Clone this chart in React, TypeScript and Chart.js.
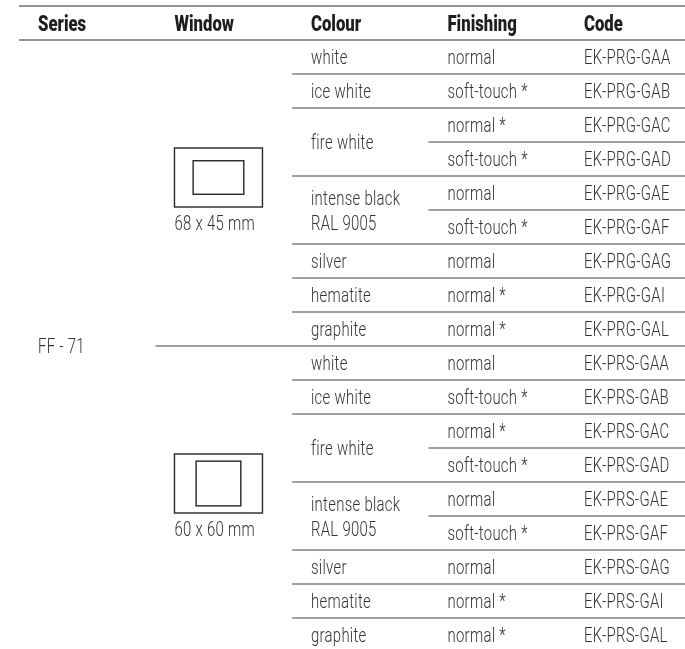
import React, { useEffect, useRef } from "react";
import { Chart, registerables } from "chart.js";

Chart.register(...registerables);

// ---------- data ----------
const HEADERS = ["Series", "Window", "Colour", "Finishing", "Code"];
const SERIES_NAME = "FF - 71";
const WINDOW_LABELS = ["68 x 45 mm", "60 x 60 mm"];
const WINDOW_W_MM = [68, 60];
const WINDOW_H_MM = [45, 60];
const COLOURS = ["white", "ice white", "fire white", "intense black\nRAL 9005", "silver", "hematite", "graphite"];
const COLOUR_SPANS = [1, 1, 2, 2, 1, 1, 1];
const FINISHINGS = ["normal", "soft-touch *", "normal *", "soft-touch *", "normal", "soft-touch *", "normal", "normal *", "normal *"];
const CODES_68x45 = ["EK-PRG-GAA", "EK-PRG-GAB", "EK-PRG-GAC", "EK-PRG-GAD", "EK-PRG-GAE", "EK-PRG-GAF", "EK-PRG-GAG", "EK-PRG-GAI", "EK-PRG-GAL"];
const CODES_60x60 = ["EK-PRS-GAA", "EK-PRS-GAB", "EK-PRS-GAC", "EK-PRS-GAD", "EK-PRS-GAE", "EK-PRS-GAF", "EK-PRS-GAG", "EK-PRS-GAI", "EK-PRS-GAL"];
const CODES = [CODES_68x45, CODES_60x60];

// ---------- style ----------
const W = 685;
const H = 649;
const COL_W = 136.5;
const ROW_H = 34;
const PAD_LEFT = 19;
const PAD_TOP = 6;
const TEXT_INSET = 0.139; // in column units
const BODY_SIZE = 21;
const HEAD_SIZE = 22;
const BODY_FONT = `300 ${BODY_SIZE}px Roboto`;
const HEAD_FONT = `900 ${HEAD_SIZE}px Roboto`;
const BODY_SX = 0.71;
const HEAD_SX = 0.76;
const BODY_SPACING = "0.4px";
const CAP_RATIO = 0.711;
const BODY_COLOR = "#333333";
const HEAD_COLOR = "#1e1e1e";
const LINE_COLOR = "#808080";
const HEAD_LINE_COLOR = "#6e6e6e";
const PX_PER_MM = 0.745;
const FRAME_W = 88;
const FRAME_H = 59;
const TWO_LINE_GAP = 25; // px between lines

const ROWS_PER_GROUP = FINISHINGS.length;

function buildLines() {
  const ds: any[] = [];
  const xEnd = (W - PAD_LEFT) / COL_W;
  const mk = (x0: number, k: number, color: string, w: number) => ({
    type: "line",
    data: [{ x: x0, y: k }, { x: xEnd, y: k }],
    borderColor: color,
    borderWidth: w,
    pointRadius: 0,
    clip: false,
    fill: false,
  });
  ds.push(mk(0, 0, HEAD_LINE_COLOR, 1.6));
  ds.push(mk(0, 1, HEAD_LINE_COLOR, 1.6));
  const colourEnds = new Set<number>();
  let acc = 0;
  COLOUR_SPANS.forEach((s) => {
    acc += s;
    colourEnds.add(acc - 1);
  });
  const total = ROWS_PER_GROUP * WINDOW_LABELS.length;
  for (let r = 0; r < total - 1; r++) {
    const local = r % ROWS_PER_GROUP;
    let start = 3;
    if (local === ROWS_PER_GROUP - 1) start = 1;
    else if (colourEnds.has(local)) start = 2;
    ds.push(mk(start, r + 2, LINE_COLOR, 1.5));
  }
  return ds;
}

function drawText(ctx: CanvasRenderingContext2D, text: string, px: number, cy: number, head: boolean) {
  const size = head ? HEAD_SIZE : BODY_SIZE;
  ctx.save();
  ctx.font = head ? HEAD_FONT : BODY_FONT;
  (ctx as any).letterSpacing = head ? "0px" : BODY_SPACING;
  ctx.fillStyle = head ? HEAD_COLOR : BODY_COLOR;
  ctx.textBaseline = "alphabetic";
  ctx.textAlign = "left";
  ctx.translate(px, cy + (size * CAP_RATIO) / 2);
  ctx.scale(head ? HEAD_SX : BODY_SX, 1);
  ctx.fillText(text, 0, 0);
  ctx.restore();
}

const tablePlugin = {
  id: "tableText",
  afterDatasetsDraw(chart: any) {
    const ctx: CanvasRenderingContext2D = chart.ctx;
    const xs = chart.scales.x;
    const ys = chart.scales.y;
    const colX = (c: number) => xs.getPixelForValue(c + TEXT_INSET);
    HEADERS.forEach((h, i) => drawText(ctx, h, colX(i), ys.getPixelForValue(0.5), true));
    const groups = WINDOW_LABELS.length;
    drawText(ctx, SERIES_NAME, colX(0), ys.getPixelForValue(1 + (groups * ROWS_PER_GROUP) / 2), false);
    for (let g = 0; g < groups; g++) {
      const k0 = 1 + g * ROWS_PER_GROUP;
      const gc = ys.getPixelForValue(k0 + ROWS_PER_GROUP / 2);
      const left = colX(1);
      const top = gc - 45;
      ctx.save();
      ctx.strokeStyle = "#262626";
      ctx.lineWidth = 1.4;
      ctx.strokeRect(left, top, FRAME_W, FRAME_H);
      const iw = WINDOW_W_MM[g] * PX_PER_MM;
      const ih = WINDOW_H_MM[g] * PX_PER_MM;
      ctx.strokeRect(left + FRAME_W / 2 - iw / 2, top + FRAME_H / 2 - ih / 2, iw, ih);
      ctx.restore();
      drawText(ctx, WINDOW_LABELS[g], left, gc + 29.5, false);
      let r = 0;
      COLOURS.forEach((c, ci) => {
        const span = COLOUR_SPANS[ci];
        const cy = ys.getPixelForValue(k0 + r + span / 2);
        const lines = c.split("\n");
        lines.forEach((ln, li) => {
          const off = (li - (lines.length - 1) / 2) * TWO_LINE_GAP;
          drawText(ctx, ln, colX(2), cy + off, false);
        });
        r += span;
      });
      FINISHINGS.forEach((f, i) => {
        const cy = ys.getPixelForValue(k0 + i + 0.5);
        drawText(ctx, f, colX(3), cy, false);
        drawText(ctx, CODES[g][i], colX(4), cy, false);
      });
    }
  },
};

export default function App() {
  const ref = useRef<HTMLCanvasElement | null>(null);
  useEffect(() => {
    if (!ref.current) return;
    const chart = new Chart(ref.current, {
      type: "scatter",
      data: { datasets: buildLines() },
      options: {
        animation: false,
        responsive: false,
        maintainAspectRatio: false,
        events: [],
        layout: { padding: { left: PAD_LEFT, top: PAD_TOP, right: 0, bottom: 0 } },
        scales: {
          x: { type: "linear", min: 0, max: (W - PAD_LEFT) / COL_W, display: false },
          y: { type: "linear", min: 0, max: (H - PAD_TOP) / ROW_H, reverse: true, display: false },
        },
        plugins: { legend: { display: false }, tooltip: { enabled: false } },
      },
      plugins: [tablePlugin],
    } as any);
    return () => chart.destroy();
  }, []);
  return (
    <div style={{ position: "absolute", left: 0, top: 0, width: W, height: H, background: "#fff" }}>
      <canvas ref={ref} width={W} height={H} style={{ display: "block", width: W, height: H }} />
    </div>
  );
}
